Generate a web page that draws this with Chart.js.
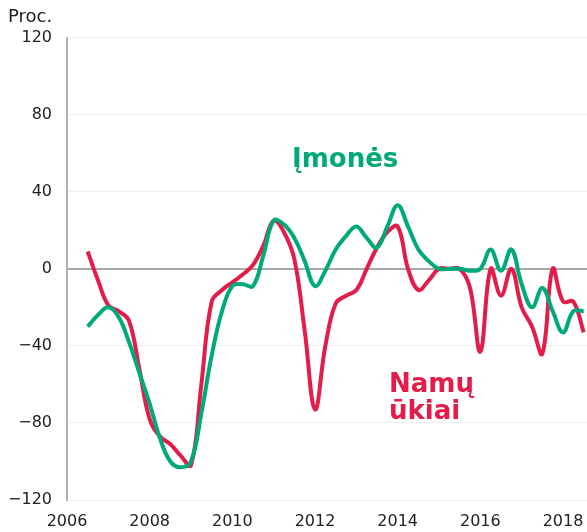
<!DOCTYPE html>
<html>
<head>
<meta charset="utf-8">
<script src="https://cdn.jsdelivr.net/npm/chart.js@4.4.0/dist/chart.umd.min.js"></script>
<style>
  body { margin: 0; background: #fff; }
  #box { width: 587px; height: 532px; }
</style>
</head>
<body>
<div id="box"><canvas id="grafikas"></canvas></div>
<script>
// ketvirčiai (metai dešimtainiu pavidalu)
var laikotarpiai = [
  2006.5, 2006.75, 2007, 2007.25, 2007.5, 2007.75, 2008, 2008.25, 2008.5, 2008.75,
  2009, 2009.25, 2009.5, 2009.75, 2010, 2010.25, 2010.5, 2010.75, 2011, 2011.25,
  2011.5, 2011.75, 2012, 2012.25, 2012.5, 2012.75, 2013, 2013.25, 2013.5, 2013.75,
  2014, 2014.25, 2014.5, 2014.75, 2015, 2015.25, 2015.5, 2015.75, 2016, 2016.25,
  2016.5, 2016.75, 2017, 2017.25, 2017.5, 2017.75, 2018, 2018.25, 2018.5
];

var imones = [
  -30, -24, -20, -25, -38, -54, -70, -88, -100, -103,
  -100, -75, -45, -22, -9, -8, -9, 7, 25, 23,
  16, 4, -9, -1, 10, 17, 22, 16, 11, 22,
  33, 22, 10, 4, 0, 0, 0, -1, 0, 10,
  -1, 10, -8, -20, -10, -22, -33, -22, -22
];

var namuUkiai = [
  9, -6, -19, -22, -27, -52, -78, -87, -91, -97,
  -102, -60, -17, -11, -7, -3, 2, 12, 25, 19,
  5, -32, -73, -40, -18, -14, -11, 0, 11, 19,
  22, 0, -11, -6, 0, 0, 0, -10, -43, 0,
  -14, 0, -20, -30, -44, 0, -17, -17, -33
];

var yTicks = [-120, -80, -40, 0, 40, 80, 120];

var zalia = '#00a97a';
var raudona = '#e31c4a';
var sriftas = '"DejaVu Sans", Verdana, sans-serif';

function taskai(reiksmes) {
  let t = [];
  for (let i = 0; i < laikotarpiai.length; i++) {
    t.push({ x: laikotarpiai[i], y: reiksmes[i] });
  }
  return t;
}

// užrašai prie kreivių
const uzrasai = {
  id: 'uzrasai',
  afterDraw(chart) {
    const ctx = chart.ctx;
    ctx.save();
    ctx.font = 'bold 26px ' + sriftas;
    ctx.textAlign = 'left';
    ctx.textBaseline = 'alphabetic';
    ctx.fillStyle = zalia;
    ctx.fillText('Įmonės', 292, 167);
    ctx.fillStyle = raudona;
    ctx.fillText('Namų', 389, 392);
    ctx.fillText('ūkiai', 389, 419);
    ctx.restore();
  }
};

new Chart(document.getElementById('grafikas'), {
  type: 'line',
  data: {
    datasets: [
      {
        label: 'Įmonės',
        data: taskai(imones),
        borderColor: zalia,
        borderWidth: 4,
        pointRadius: 0,
        tension: 0.4,
        fill: false
      },
      {
        label: 'Namų ūkiai',
        data: taskai(namuUkiai),
        borderColor: raudona,
        borderWidth: 4,
        pointRadius: 0,
        tension: 0.4,
        fill: false
      }
    ]
  },
  options: {
    responsive: true,
    maintainAspectRatio: false,
    animation: false,
    layout: { padding: { left: 8, right: 0, top: 0, bottom: 2 } },
    plugins: {
      legend: { display: false },
      tooltip: { enabled: false },
      title: {
        display: true,
        text: 'Proc.',
        align: 'start',
        color: '#222',
        font: { family: sriftas, size: 18, weight: 'normal', lineHeight: 1.2 },
        padding: { top: 7, bottom: 9 }
      }
    },
    scales: {
      x: {
        type: 'linear',
        min: 2006,
        max: 2018.58,
        afterFit: function (axis) {
          axis.height = 30;
          axis.paddingLeft = 0;
          axis.paddingRight = 0;
        },
        grid: { display: false },
        border: { display: false },
        ticks: {
          stepSize: 2,
          includeBounds: false,
          color: '#222',
          padding: 4,
          maxRotation: 0,
          font: { family: sriftas, size: 16 },
          callback: function (v) { return String(v); }
        }
      },
      y: {
        min: -120,
        max: 120,
        afterBuildTicks: function (axis) {
          axis.ticks = yTicks.map(function (v) { return { value: v }; });
        },
        afterFit: function (axis) { axis.width = 59; },
        grid: {
          drawTicks: false,
          color: function (c) { return c.tick && c.tick.value === 0 ? '#a8a8a8' : '#eeeeee'; },
          lineWidth: function (c) { return c.tick && c.tick.value === 0 ? 2 : 1; }
        },
        border: { display: true, color: '#b0b0b0', width: 2 },
        ticks: {
          color: '#222',
          padding: 15,
          font: { family: sriftas, size: 16 },
          callback: function (v) { return v < 0 ? '\u2212' + Math.abs(v) : String(v); }
        }
      }
    }
  },
  plugins: [uzrasai]
});
</script>
</body>
</html>
